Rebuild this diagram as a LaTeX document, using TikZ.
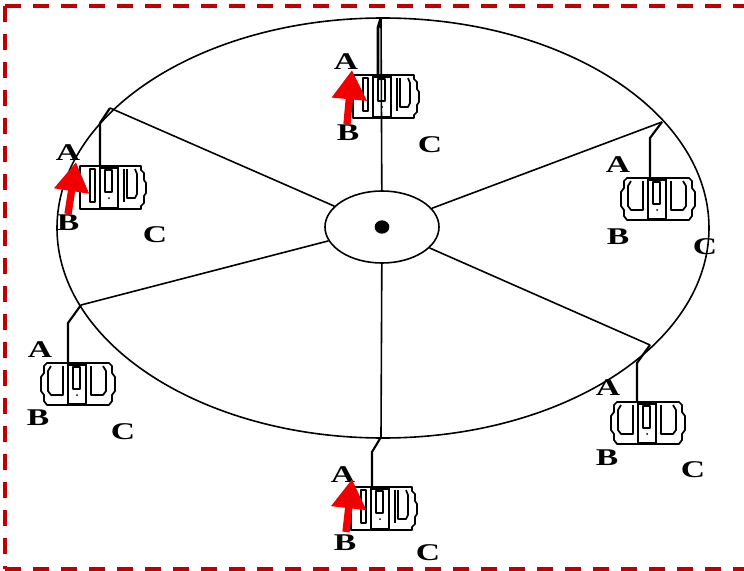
\documentclass[tikz,border=0pt]{standalone}
\usepackage{fontspec}
\setmainfont{Liberation Serif}
\usetikzlibrary{shapes.geometric,arrows.meta}
\definecolor{bord}{HTML}{C00000}
\definecolor{arr}{HTML}{F00000}
\newcommand{\lbl}[1]{\scalebox{1.4}[1]{#1}}
\tikzset{
  wheel/.style={line width=1.2pt, black},
  hanger/.style={line width=1.6pt, black},
  cab/.style={line width=1.3pt, black, line join=round},
  lab/.style={font=\fontsize{18}{18}\selectfont\bfseries, inner sep=0pt, anchor=center},
  redarr/.style={line width=5.5pt, arr, -{Triangle[length=22pt,width=25pt]}},
  border/.style={line width=2.4pt, bord, dash pattern=on 12pt off 9pt},
  cabinsym/.pic={
    \draw[cab] (-30,0) -- (32,0) -- (35,3) -- (35,10) -- (38,14) -- (38,28) -- (35,32) -- (35,38) -- (32,42)
      -- (-30,42) -- (-33,38) -- (-33,32) -- (-36,28) -- (-36,14) -- (-33,10) -- (-33,3) -- cycle;
    \draw[cab] (-9,0) rectangle (9,41);
    \draw[cab] (-4,4) rectangle (3,26);
    \fill (-9,-1) rectangle (9,2.5);
    \fill (0,32) circle (1);
    \draw[cab] (-14,3) -- (-14,32) -- (-26,32) -- (-29,28) -- (-29,8) -- (-26,3);
    \draw[cab] (14,3) -- (14,32) -- (26,32) -- (29,28) -- (29,8) -- (26,3);
  },
  cabinasym/.pic={
    \draw[cab] (-29,0) -- (32,0) -- (32,4) -- (35,7) -- (35,14) -- (37,17) -- (37,27) -- (35,30) -- (35,37) -- (32,40) -- (32,43)
      -- (-29,43) -- cycle;
    \draw[cab] (-9,0) rectangle (9,42);
    \draw[cab] (-4,4) rectangle (3,26);
    \fill (-9,-1) rectangle (9,2.5);
    \fill (0,32) circle (1);
    \draw[cab] (-14,3) -- (-19,3) -- (-19,36) -- (-14,36) -- cycle;
    \draw[cab] (15,3) -- (15,36);
    \draw[cab] (18,3) -- (18,32) -- (26,32) -- (28,28) -- (28,8) -- (26,3);
  }
}
\begin{document}
\begin{tikzpicture}[x=0.75pt, y=-0.75pt]
\useasboundingbox (0,0) rectangle (744,571);
\clip (0,0) rectangle (744,571);
\fill[white] (0,0) rectangle (744,571);
\draw[border] (5,6) -- (760,6);
\draw[border] (5,6) -- (5,569);
\draw[border] (5,569) -- (760,569);

% wheel
\draw[wheel] (383,228) ellipse [x radius=326, y radius=210];
\node[ellipse, draw, line width=1.2pt, minimum width=85.5pt, minimum height=54pt, inner sep=0pt] (hub) at (382,227) {};
\node[ellipse, fill=black, minimum width=11pt, minimum height=10pt, inner sep=0pt] (hubdot) at (382,227) {};

\coordinate (r1) at (381,18);
\coordinate (r2) at (662,122);
\coordinate (r3) at (650,345);
\coordinate (r4) at (381,437);
\coordinate (r5) at (81,305);
\coordinate (r6) at (110,108);
\foreach \r in {r1,r2,r3,r4,r5,r6} \draw[wheel] (hub) -- (\r);

% hangers
\coordinate (k1) at (378,28);  \coordinate (h1) at (378,75);
\coordinate (k2) at (650,138); \coordinate (h2) at (650,178);
\coordinate (k3) at (637,363); \coordinate (h3) at (637,402);
\coordinate (k4) at (372,452); \coordinate (h4) at (372,487);
\coordinate (k5) at (68,323);  \coordinate (h5) at (68,363);
\coordinate (k6) at (100,123); \coordinate (h6) at (100,166);
\draw[hanger, line width=2.2pt] (r1) -- (k1) -- (h1);
\draw[hanger] (r2) -- (k2) -- (h2);
\draw[hanger] (r3) -- (k3) -- (h3);
\draw[hanger] (r4) -- (k4) -- (h4);
\draw[hanger] (r5) -- (k5) -- (h5);
\draw[hanger] (r6) -- (k6) -- (h6);

% cabins
\pic at (382,75) {cabinasym};
\pic at (109,166) {cabinasym};
\pic at (380,487) {cabinasym};
\pic at (657,178) {cabinsym};
\pic at (77,363) {cabinsym};
\pic at (647,402) {cabinsym};

% labels
\node[lab] (A1) at (346,62) {\lbl{A}};
\node[lab] (B1) at (348,133) {\lbl{B}};
\node[lab] (C1) at (430,145) {\lbl{C}};
\node[lab] (A6) at (68,153) {\lbl{A}};
\node[lab] (B6) at (68,223) {\lbl{B}};
\node[lab] (C6) at (155,235) {\lbl{C}};
\node[lab] (A2) at (618,165) {\lbl{A}};
\node[lab] (B2) at (618,237) {\lbl{B}};
\node[lab] (C2) at (705,247) {\lbl{C}};
\node[lab] (A5) at (40,350) {\lbl{A}};
\node[lab] (B5) at (38,418) {\lbl{B}};
\node[lab] (C5) at (123,432) {\lbl{C}};
\node[lab] (A3) at (608,388) {\lbl{A}};
\node[lab] (B3) at (607,458) {\lbl{B}};
\node[lab] (C3) at (693,470) {\lbl{C}};
\node[lab] (A4) at (343,475) {\lbl{A}};
\node[lab] (B4) at (345,543) {\lbl{B}};
\node[lab] (C4) at (428,553) {\lbl{C}};

% red arrows
\coordinate (t1) at (347,124); \coordinate (p1) at (352,70);
\coordinate (t6) at (68,214);  \coordinate (p6) at (76,162);
\coordinate (t4) at (346,532); \coordinate (p4) at (352,479);
\draw[redarr] (t1) -- (p1);
\draw[redarr] (t6) -- (p6);
\draw[redarr] (t4) -- (p4);
\end{tikzpicture}
\end{document}
